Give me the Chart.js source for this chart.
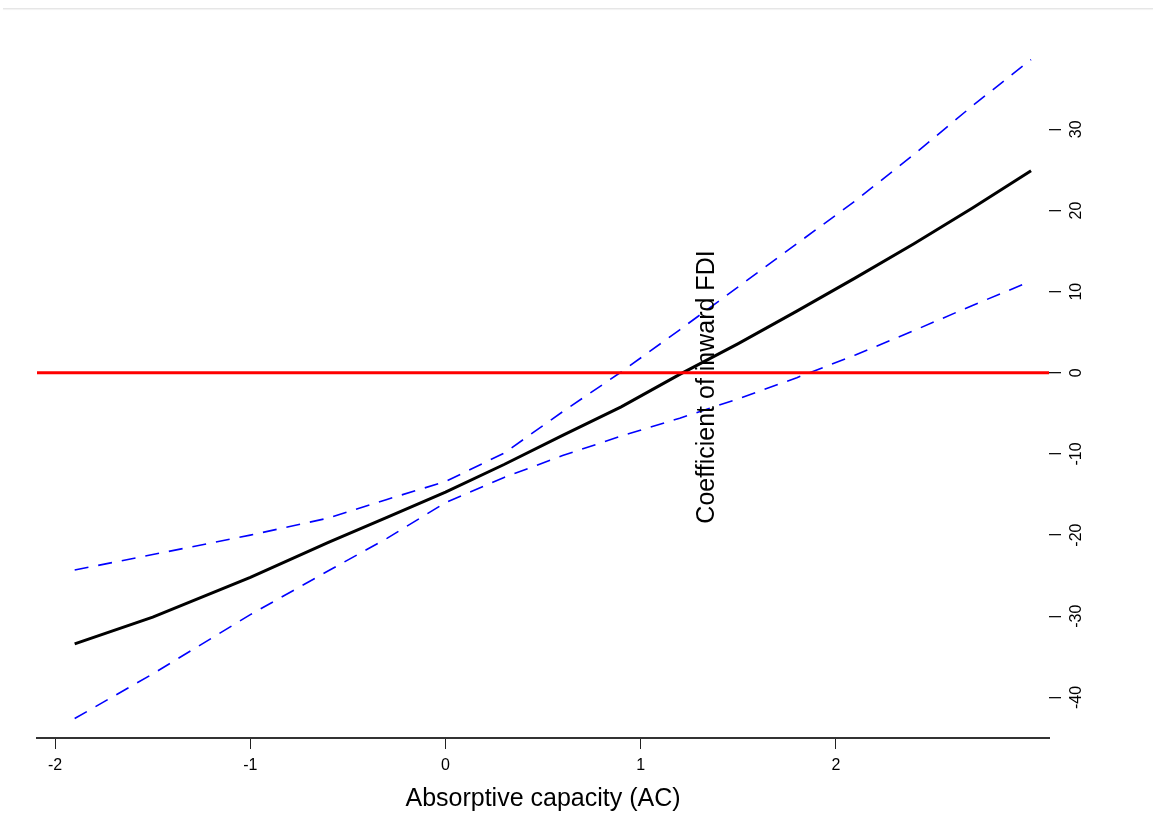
<!DOCTYPE html>
<html>
<head>
<meta charset="utf-8">
<script src="https://cdn.jsdelivr.net/npm/chart.js@4/dist/chart.umd.min.js"></script>
<style>
  body { margin: 0; background: #fff; }
  #wrap { position: relative; width: 1153px; height: 816px; }
  #topline { position: absolute; top: 8px; left: 3px; right: 0; height: 1px; background: #e6e6e6; box-shadow: 0 1px 1px #f0f0f0; }
  canvas { position: absolute; left: 0; top: 0; }
</style>
</head>
<body>
<div id="wrap">
  <div id="topline"></div>
  <canvas id="myChart" width="1153" height="816"></canvas>
</div>
<script>
// absorptive capacity values (x)
var acValues = [-1.9, -1.5, -1.0, -0.6, -0.3, 0, 0.3, 0.6, 0.9, 1.2, 1.5, 1.8, 2.1, 2.4, 2.7, 3.0];
// marginal effect of inward FDI and its confidence bounds
var coefValues = [-33.4, -30.1, -25.2, -20.9, -17.8, -14.7, -11.3, -7.7, -4.2, -0.2, 3.6, 7.6, 11.7, 15.9, 20.3, 24.9];
var upperValues = [-24.3, -22.4, -20.0, -17.9, -15.6, -13.4, -9.9, -4.8, 0.1, 5.3, 10.6, 15.9, 21.2, 26.9, 32.9, 38.6];
var lowerValues = [-42.6, -37.1, -29.8, -24.4, -20.4, -16.0, -12.9, -10.2, -7.8, -5.6, -3.2, -0.6, 2.2, 5.2, 8.3, 11.3];
// zero reference line
var zeroLineX = [-2.2, 3.2];
var zeroLineY = [0, 0];
// tick labels
var xTicks = [-2, -1, 0, 1, 2];
var yTicks = [-40, -30, -20, -10, 0, 10, 20, 30];

var xTitle = 'Absorptive capacity (AC)';
var yTitle = 'Coefficient of inward FDI';
var fontFam = '"Liberation Sans", Arial, Helvetica, sans-serif';

function toPoints(xs, ys) {
    return xs.map(function (x, i) { return {x: x, y: ys[i]}; });
}

// draws the rotated y tick labels and the y title (R style)
var rLabels = {
    id: 'rLabels',
    afterDraw: function (chart) {
        var ctx = chart.ctx;
        var ys = chart.scales.y;
        var area = chart.chartArea;
        ctx.save();
        ctx.fillStyle = '#000';
        ctx.font = '16px ' + fontFam;
        ctx.textAlign = 'center';
        ctx.textBaseline = 'middle';
        ys.ticks.forEach(function (t) {
            var py = ys.getPixelForValue(t.value);
            ctx.save();
            ctx.translate(ys.left + 28, py);
            ctx.rotate(-Math.PI / 2);
            ctx.fillText(String(t.value), 0, 0);
            ctx.restore();
        });
        ctx.font = '25px ' + fontFam;
        ctx.translate(area.left + (area.right - area.left) * 0.662, (area.top + area.bottom) / 2);
        ctx.rotate(-Math.PI / 2);
        ctx.fillText(yTitle, 0, 0);
        ctx.restore();
    }
};

var ctx = document.getElementById('myChart').getContext('2d');
var chart = new Chart(ctx, {
    type: 'line',
    data: {
        datasets: [{
            data: toPoints(zeroLineX, zeroLineY),
            borderColor: '#ff0000',
            borderWidth: 3,
            pointRadius: 0,
            tension: 0
        }, {
            data: toPoints(acValues, coefValues),
            borderColor: '#000000',
            borderWidth: 3,
            pointRadius: 0,
            tension: 0
        }, {
            data: toPoints(acValues, upperValues),
            borderColor: '#0000ff',
            borderWidth: 1.6,
            borderDash: [14, 10],
            pointRadius: 0,
            tension: 0
        }, {
            data: toPoints(acValues, lowerValues),
            borderColor: '#0000ff',
            borderWidth: 1.6,
            borderDash: [14, 10],
            pointRadius: 0,
            tension: 0
        }]
    },
    options: {
        responsive: false,
        animation: false,
        devicePixelRatio: 1,
        layout: { padding: { left: 37, top: 36, right: 0, bottom: 0 } },
        plugins: {
            legend: { display: false },
            tooltip: { enabled: false }
        },
        scales: {
            x: {
                type: 'linear',
                min: -2.093,
                max: 3.092,
                afterBuildTicks: function (scale) {
                    scale.ticks = xTicks.map(function (v) { return {value: v}; });
                },
                afterFit: function (scale) { scale.height = 78; },
                grid: { drawOnChartArea: false, drawTicks: true, tickLength: 11, color: '#222' },
                border: { display: true, color: '#333', width: 2 },
                ticks: {
                    color: '#000',
                    padding: 7,
                    maxRotation: 0,
                    font: { family: fontFam, size: 16 }
                },
                title: {
                    display: true,
                    text: xTitle,
                    color: '#000',
                    font: { family: fontFam, size: 25 },
                    padding: { top: 0, bottom: 2 }
                }
            },
            y: {
                type: 'linear',
                position: 'right',
                min: -45,
                max: 41.5,
                afterBuildTicks: function (scale) {
                    scale.ticks = yTicks.map(function (v) { return {value: v}; });
                },
                afterFit: function (scale) { scale.width = 104; },
                grid: { drawOnChartArea: false, drawTicks: true, tickLength: 12, color: '#111', lineWidth: 1.3 },
                border: { display: false },
                ticks: { display: false }
            }
        }
    },
    plugins: [rLabels]
});
</script>
</body>
</html>
